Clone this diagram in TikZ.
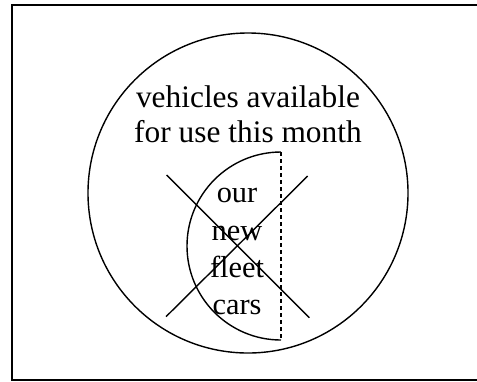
\documentclass[tikz,border=0pt]{standalone}
\usepackage{fontspec}
\setmainfont{Liberation Serif}
\usetikzlibrary{calc}
\newcommand{\vennlw}{1.4bp}
\tikzset{venntext/.style={draw=none, fill=none, align=center, inner sep=0pt, font=\fontsize{31.5}{36}\selectfont}}
\tikzset{cross/.style={line width=\vennlw}}
\tikzset{split/.style={line width=\vennlw, dash pattern=on 4bp off 3bp}}

\begin{document}
\begin{tikzpicture}[x=1bp,y=-1bp,line width=\vennlw]
\useasboundingbox (0,0) rectangle (477,381);

\draw (12,5) rectangle (480,380);

\coordinate (0) at (248,193);
\draw (0) circle[radius=160bp];

\coordinate (1) at (281,152);
\coordinate (2) at (281,340);
\draw (1) arc[start angle=90, end angle=270, radius=94bp];
\draw[split] (1) -- (2);

\node[venntext] (3) at (248,114.3) {vehicles available\\for use this month};
\node[venntext, font=\fontsize{30.5}{37.3}\selectfont] (4) at (237,251.6) {our\\new\\fleet\\cars};

%\draw[cross] (4.north west) -- (4.south east);
\draw[cross] (166.7,175) -- (309.3,317.7);
\draw[cross] (166,316.7) -- (307.7,176);
\end{tikzpicture}
\end{document}
